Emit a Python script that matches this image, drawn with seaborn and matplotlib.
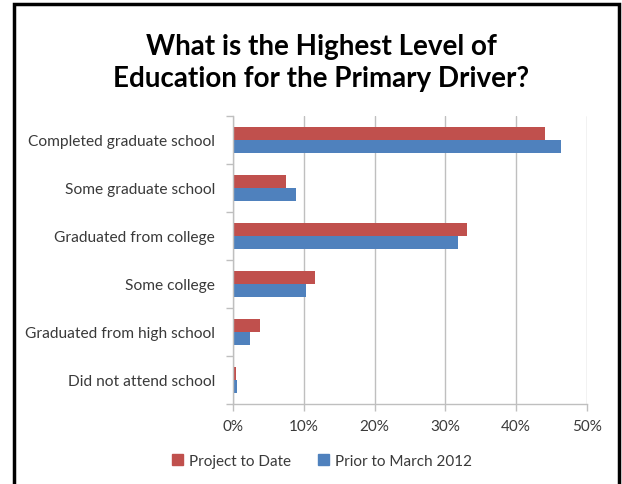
import matplotlib
matplotlib.use("Agg")
import matplotlib.pyplot as plt
from matplotlib.patches import Rectangle
import seaborn as sns
import pandas as pd

categories = [
    "Completed graduate school",
    "Some graduate school",
    "Graduated from college",
    "Some college",
    "Graduated from high school",
    "Did not attend school",
]
series_names = ["Project to Date", "Prior to March 2012"]
project_to_date = [44.0, 7.5, 33.0, 11.6, 3.8, 0.4]
prior_to_march_2012 = [46.3, 8.9, 31.8, 10.3, 2.4, 0.5]
x_ticks = [0, 10, 20, 30, 40, 50]
x_tick_labels = ["0%", "10%", "20%", "30%", "40%", "50%"]
title = "What is the Highest Level of\nEducation for the Primary Driver?"

colors = ["#C0504D", "#4F81BD"]

df = pd.DataFrame({
    "category": categories * 2,
    "series": [series_names[0]] * len(categories) + [series_names[1]] * len(categories),
    "value": project_to_date + prior_to_march_2012,
})

sns.set_theme(style="white")
plt.rcParams["font.family"] = ["Lato", "DejaVu Sans"]

fig = plt.figure(figsize=(6.22, 4.85), dpi=100)
ax = fig.add_axes([233 / 622, 1 - 405 / 485, (587 - 233) / 622, (405 - 117) / 485])

sns.barplot(data=df, y="category", x="value", hue="series", order=categories,
            hue_order=series_names, palette=colors, orient="h", width=0.56,
            saturation=1, ax=ax, legend=False, linewidth=0)

ax.set_xlim(0, 50)
ax.set_ylim(len(categories) - 0.5, -0.5)
ax.set_xticks(x_ticks)
ax.set_xticklabels(x_tick_labels)
ax.set_xlabel("")
ax.set_ylabel("")

# vertical gridlines
ax.xaxis.grid(True, color="#BFBFBF", linewidth=1)
ax.set_axisbelow(True)

for side in ["top", "right"]:
    ax.spines[side].set_visible(False)
for side in ["left", "bottom"]:
    ax.spines[side].set_color("#BFBFBF")
    ax.spines[side].set_linewidth(1)

# category labels between boundary ticks
ax.set_yticks(range(len(categories)))
ax.set_yticklabels(categories)
ax.set_yticks([i - 0.5 for i in range(len(categories) + 1)], minor=True)
ax.tick_params(axis="y", which="major", length=0, pad=13, labelsize=11.2, labelcolor="#3A3A3A")
ax.tick_params(axis="y", which="minor", length=5, color="#BFBFBF", width=1, direction="out", left=True)
ax.tick_params(axis="x", which="major", length=5, color="#BFBFBF", width=1, direction="out",
               bottom=True, pad=6, labelsize=11, labelcolor="#3A3A3A")

fig.text(0.516, 1 - 63 / 485, title, ha="center", va="center", fontsize=20,
         fontweight="bold", color="black", linespacing=1.3)

handles = [Rectangle((0, 0), 1, 1, color=c) for c in colors]
fig.legend(handles, series_names, loc="center", bbox_to_anchor=(322 / 622, 1 - 462 / 485),
           ncol=2, frameon=False, fontsize=11, handlelength=0.7, handleheight=0.7,
           handletextpad=0.4, columnspacing=1.8, labelcolor="#3A3A3A")

# outer frame
frame = Rectangle((14 / 622, -0.05), (619 - 14) / 622, 1.05 - 5 / 485, transform=fig.transFigure,
                  fill=False, edgecolor="black", linewidth=2.5)
fig.add_artist(frame)

fig.savefig("out.png", dpi=100)
